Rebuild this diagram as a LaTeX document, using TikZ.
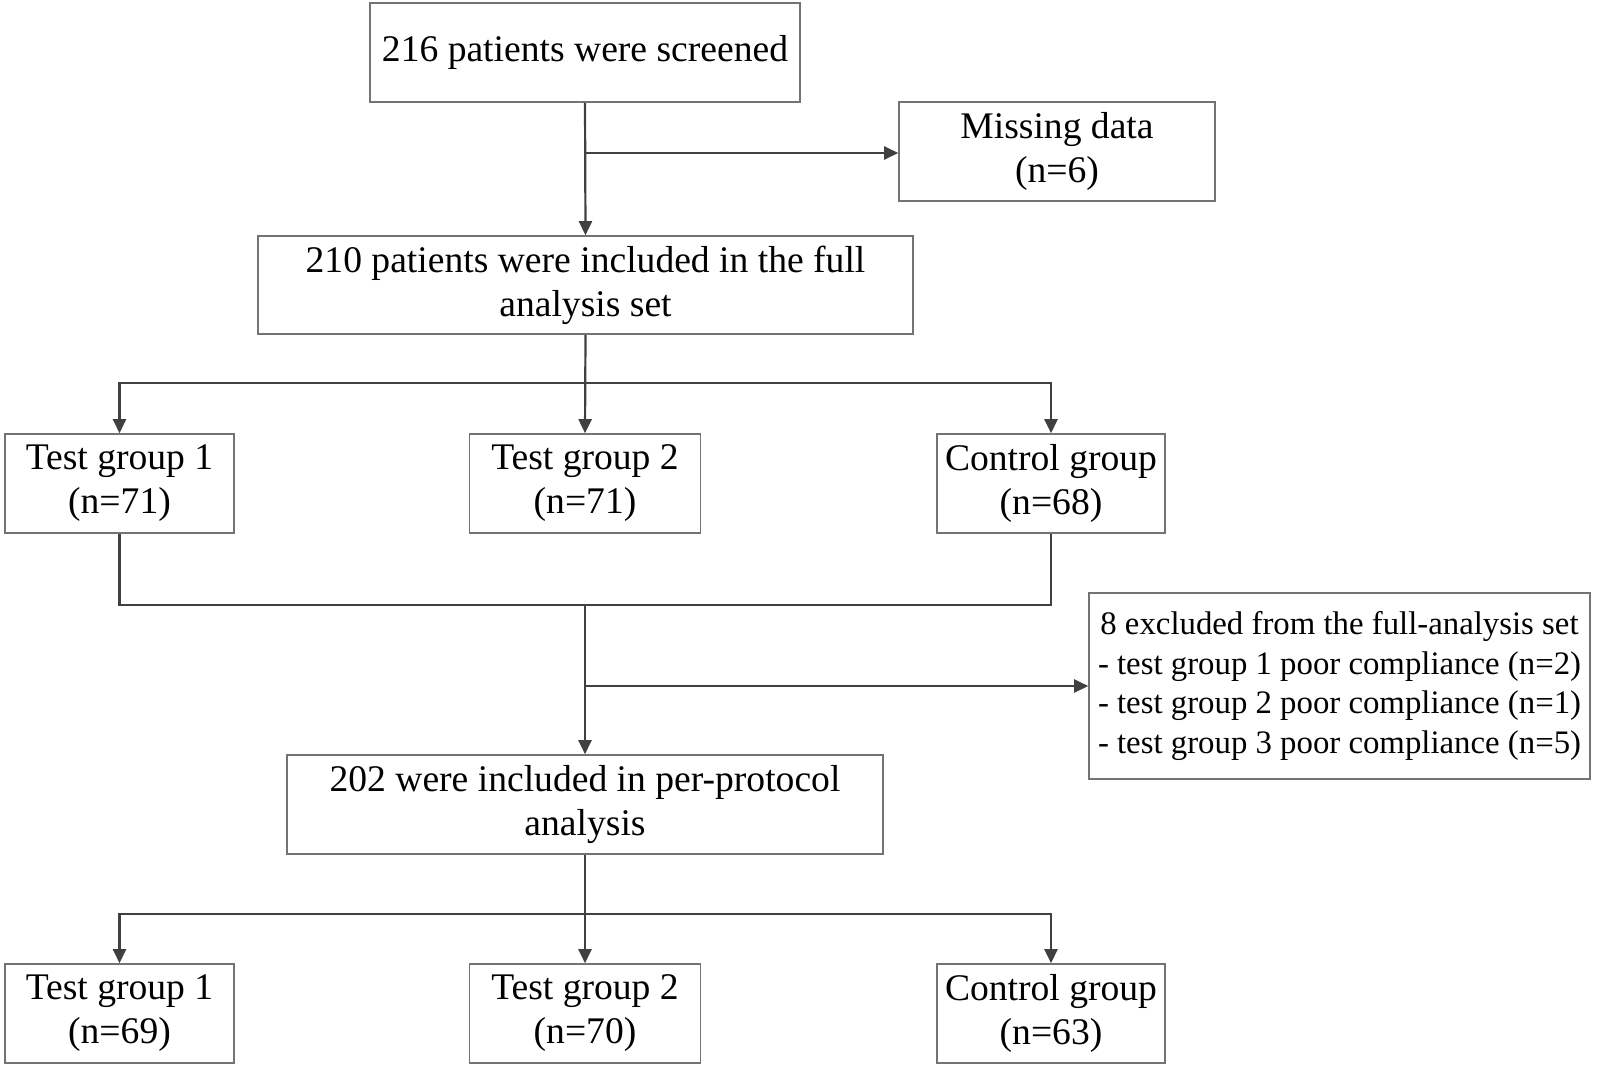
\documentclass[tikz,border=0pt]{standalone}
\usepackage{fontspec}
\setmainfont{Liberation Serif}
\usetikzlibrary{arrows.meta}
\begin{document}
\begin{tikzpicture}[x=0.5pt,y=-0.5pt,
  box/.style={draw=black!55,line width=0.8pt,fill=white,inner sep=0pt,align=center,
    font=\fontsize{18.8}{22}\selectfont},
  exbox/.style={box,font=\fontsize{16.4}{19.7}\selectfont},
  conn/.style={draw=black!75,line width=1.1pt},
  arr/.style={conn,-{Triangle[length=7pt,width=6.5pt]}}]
\useasboundingbox (0,0) rectangle (1598,1071);
\fill[white] (0,0) rectangle (1598,1071);
\node[box,minimum width=215pt,minimum height=49.5pt] (b1) at (585,52.5) {216 patients were screened};
\node[box,minimum width=158pt,minimum height=49.5pt] (miss) at (1057,151.5) {Missing data\\(n=6)};
\node[box,minimum width=327.5pt,minimum height=49pt] (fas) at (585.5,285) {210 patients were included in the full\\analysis set};
\node[box,minimum width=114.5pt,minimum height=49.5pt] (t1) at (119.5,483.5) {Test group 1\\(n=71)};
\node[box,minimum width=115.5pt,minimum height=49.5pt] (t2) at (585,483.5) {Test group 2\\(n=71)};
\node[box,minimum width=114pt,minimum height=49.5pt] (c) at (1051,483.5) {Control group\\(n=68)};
\node[exbox,minimum width=250.5pt,minimum height=93pt] (ex) at (1339.5,686) {8 excluded from the full-analysis set\\- test group 1 poor compliance (n=2)\\- test group 2 poor compliance (n=1)\\- test group 3 poor compliance (n=5)};
\node[box,minimum width=298pt,minimum height=49.5pt] (pp) at (585,804.5) {202 were included in per-protocol\\analysis};
\node[box,minimum width=114.5pt,minimum height=49.5pt] (u1) at (119.5,1013.5) {Test group 1\\(n=69)};
\node[box,minimum width=115.5pt,minimum height=49.5pt] (u2) at (585,1013.5) {Test group 2\\(n=70)};
\node[box,minimum width=114pt,minimum height=49.5pt] (u3) at (1051,1013.5) {Control group\\(n=63)};
\coordinate (j1) at (585,153);
\coordinate (j2) at (585,383);
\coordinate (j3) at (585,605);
\coordinate (j4) at (585,686);
\coordinate (j5) at (585,914);
\draw[arr] (b1.south) -- (fas.north);
\draw[arr] (j1) -- (j1 -| miss.west);
\draw[arr] (fas.south) -- (t2.north);
\draw[arr] (j2) -| (t1.north);
\draw[arr] (j2) -| (c.north);
\draw[conn] (t1.south) |- (j3) -| (c.south);
\draw[arr] (j3) -- (pp.north);
\draw[arr] (j4) -- (j4 -| ex.west);
\draw[arr] (pp.south) -- (u2.north);
\draw[arr] (j5) -| (u1.north);
\draw[arr] (j5) -| (u3.north);
\end{tikzpicture}
\end{document}
